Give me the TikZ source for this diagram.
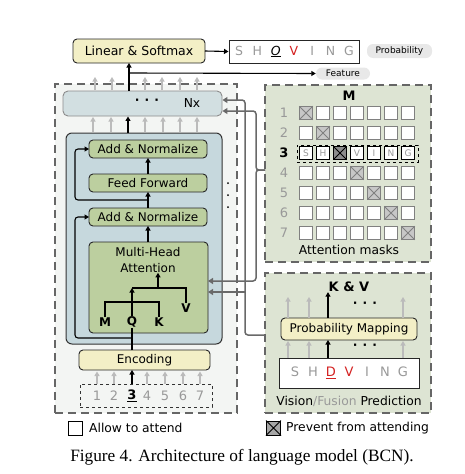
\documentclass[tikz,border=0pt]{standalone}
\usepackage{fontspec}
\setmainfont{Liberation Serif}
\newfontfamily\cfont{DejaVu Sans}
\usetikzlibrary{arrows.meta}
\definecolor{ylw}{HTML}{F3EFC6}
\definecolor{grn}{HTML}{BCCF9F}
\definecolor{blu}{HTML}{C6D8DD}
\definecolor{nxc}{HTML}{D2DFE1}
\definecolor{pnl}{HTML}{DDE4D3}
\definecolor{lpnl}{HTML}{F3F5F3}
\definecolor{dsh}{HTML}{666666}
\definecolor{cnn}{HTML}{696969}
\definecolor{lgr}{HTML}{BBBBBB}
\definecolor{txg}{HTML}{999999}
\definecolor{redl}{HTML}{D42020}
\begin{document}
\begin{tikzpicture}[x=1pt,y=-1pt,
  every node/.style={font=\cfont},
  box/.style={draw=black!85, line width=0.9pt, rounded corners=4pt, inner sep=0pt, outer sep=0pt, font=\cfont\fontsize{12}{12}\selectfont},
  ybox/.style={box, fill=ylw},
  gbox/.style={box, fill=grn},
  panel/.style={draw=dsh, line width=2.4pt, dash pattern=on 8pt off 5pt, inner sep=0pt, outer sep=0pt},
  garr/.style={draw=lgr, line width=1.5pt, -{Triangle[length=4.5pt,width=5pt]}},
  barr/.style={draw=black, line width=1.1pt, -{Triangle[length=4.5pt,width=5pt]}},
  bline/.style={draw=black, line width=1.1pt},
  carr/.style={draw=cnn, line width=1.5pt, rounded corners=3pt, -{Triangle[length=5pt,width=6pt]}},
  pill/.style={fill=black!9, rounded corners=6pt, inner sep=0pt, font=\cfont\fontsize{9}{10}\selectfont},
  sq/.style={draw=black!50, line width=1pt, fill=white, minimum size=12.5pt, inner sep=0pt},
  lab/.style={font=\cfont\fontsize{12.3}{13}\selectfont, inner sep=0pt},
  blab/.style={font=\cfont\bfseries\fontsize{12}{13}\selectfont, inner sep=0pt},
]
\path[use as bounding box] (0,0) rectangle (464,474);

% panels
\node[panel, fill=lpnl, minimum width=182pt, minimum height=329pt] (lpanel) at (146,248.5) {};
\node[panel, fill=pnl, minimum width=166pt, minimum height=177pt] (mpanel) at (348,173.5) {};
\node[panel, fill=pnl, minimum width=166pt, minimum height=140pt] (kpanel) at (348,343) {};

% top
\node[ybox, minimum width=132pt, minimum height=24pt, font=\cfont\fontsize{12.5}{13}\selectfont] (linear) at (139,51) {Linear \& Softmax};
\node[draw=black!85, line width=1pt, fill=white, minimum width=130pt, minimum height=23pt, inner sep=0pt,
  font=\cfont\fontsize{12.5}{13}\selectfont] (shov) at (294,51.5)
  {\makebox[18.3pt]{\color{txg}S}\makebox[18.3pt]{\color{txg}H}\makebox[18.3pt]{\underline{\textit{O}}}\makebox[18.3pt]{\color{redl}V}\makebox[18.3pt]{\color{txg}I}\makebox[18.3pt]{\color{txg}N}\makebox[18.3pt]{\color{txg}G}};
\node[pill, minimum width=65pt, minimum height=14pt] (prob) at (399.5,51) {Probability};
\node[pill, minimum width=54pt, minimum height=12pt] (feat) at (343,73.5) {Feature};
\draw[barr] (linear.east) -- (shov.west);

% left stack
\node[draw=black!45, line width=0.9pt, fill=nxc, rounded corners=5pt, minimum width=159pt, minimum height=25pt] (nx) at (142.5,103.5) {};
\node[lab] (nxdots) at (147,102) {\textbf{·\hspace{5pt}·\hspace{5pt}·}};
\node[lab] (nxl) at (192,103.5) {Nx};
\node[draw=black!80, line width=1pt, fill=blu, rounded corners=6pt, minimum width=156pt, minimum height=211pt] (enc) at (144,238.5) {};
\node[gbox, minimum width=118pt, minimum height=18pt] (an2) at (148,149) {Add \& Normalize};
\node[gbox, minimum width=118pt, minimum height=18pt] (ff) at (148,183) {Feed Forward};
\node[gbox, minimum width=118pt, minimum height=18pt] (an1) at (148,217) {Add \& Normalize};
\node[gbox, minimum width=119pt, minimum height=91pt] (mha) at (148.5,287.5) {};
\node[lab, align=center, font=\cfont\fontsize{12}{16}\selectfont] (mhat) at (148,260) {Multi-Head\\Attention};
\node[blab] (M) at (105,322) {M};
\node[blab] (Q) at (132,322) {Q};
\node[blab] (K) at (159,322) {K};
\node[blab] (V) at (186,308) {V};
\node[ybox, minimum width=131pt, minimum height=20pt] (encd) at (144.5,360) {Encoding};
\node[draw=black!80, line width=0.8pt, dashed, minimum width=132pt, minimum height=23pt] (numbox) at (146,395.5) {};
\foreach \n/\x in {1/97,2/114,4/147,5/165,6/183,7/200}{
  \node[lab, text=txg, font=\cfont\fontsize{13}{14}\selectfont] (n\n) at (\x,395.5) {\n};
  \draw[garr] (\x,384) -- (\x,371.5);
}
\node[lab, font=\cfont\bfseries\fontsize{13}{14}\selectfont] (n3) at (132,395.5) {\underline{3}};
\draw[barr] (n3.north |- numbox.north) -- (n3.north |- encd.south);

% inner arrows
\draw[barr] (mha.north -| an1.south) -- (an1.south);
\draw[barr] (an1.north) -- (ff.south);
\draw[barr] (ff.north) -- (an2.south);
\coordinate (r2) at (148,200);
\coordinate (r1) at (132,338);
\draw[barr, rounded corners=3pt] (r2) -- (75,200) -- (75,149) -- (an2.west);
\draw[barr, rounded corners=3pt] (r1) -- (75,338) -- (75,217) -- (an1.west);
\draw[bline] (encd.north -| Q) -- (Q.south);
\draw[bline] (M.north) -- (105,302) -- (159,302) -- (K.north);
\draw[barr] (Q.north) -- (132,288);
\draw[bline] (132,288) -- (186,288) -- (V.north);
\draw[barr] (158,288) -- (mhat.south -| 158,0);

% arrows into Nx
\foreach \x in {93,111,145,163,180,197}{ \draw[garr] (\x,132) -- (\x,117); }
\coordinate (c1) at (128,0);
\draw[barr] (enc.north -| c1) -- (nx.south -| c1);
% arrows above Nx
\foreach \x in {95,112,145,162,180,197}{ \draw[garr] (\x,90) -- (\x,77); }
\coordinate (c2) at (129,0);
\draw[barr] (nx.north -| c2) -- (linear.south -| c2);
\draw[barr] (129,73) -- (feat.west);

% vertical dots
\fill (228,183) circle (1pt) (228,195) circle (1pt) (228,207) circle (1pt);

% attention mask panel
\node[blab, font=\cfont\bfseries\fontsize{13}{14}\selectfont] (Mt) at (349,96) {M};
\foreach \i in {1,2,4,5,6,7}{
  \node[lab, text=txg, font=\cfont\fontsize{13}{14}\selectfont] (rl\i) at (284,113+20*\i-20) {\i};
  \foreach \j in {1,...,7}{
    \ifnum\i=\j
      \node[sq, fill=black!22] (s\i\j) at (306+17*\j-17,113+20*\i-20) {};
      \draw[draw=black!50, line width=1pt] (s\i\j.north west) -- (s\i\j.south east) (s\i\j.north east) -- (s\i\j.south west);
    \else
      \node[sq] (s\i\j) at (306+17*\j-17,113+20*\i-20) {};
    \fi
  }
}
\node[lab, font=\cfont\bfseries\fontsize{13}{14}\selectfont] (rl3) at (284,153) {3};
\node[draw=black, line width=0.8pt, dashed, minimum width=121pt, minimum height=17pt, inner sep=0pt] (row3) at (357.5,153.5) {};
\foreach \j/\c in {1/S,2/H,4/V,5/I,6/N,7/G}{
  \node[sq, draw=black, text=txg, font=\cfont\fontsize{9}{9}\selectfont] (s3\j) at (306+17*\j-17,153) {\c};
}
\node[sq, draw=black, fill=black!45] (s33) at (340,153) {};
\draw[black, line width=1pt] (s33.north west) -- (s33.south east) (s33.north east) -- (s33.south west);
\node[lab] (amask) at (349,250) {Attention masks};

% K & V panel
\node[blab, font=\cfont\bfseries\fontsize{13}{14}\selectfont] (kv) at (349,287) {K \& V};
\node[ybox, minimum width=136pt, minimum height=22pt] (pm) at (349,329) {Probability Mapping};
\node[draw=black!85, line width=1pt, fill=white, minimum width=140pt, minimum height=30pt, inner sep=0pt,
  font=\cfont\fontsize{13}{14}\selectfont] (shdv) at (349,373)
  {\makebox[18pt]{\color{txg}S}\makebox[18pt]{\color{txg}H}\makebox[18pt]{\color{redl}\underline{D}}\makebox[18pt]{\color{redl}V}\makebox[18pt]{\color{txg}I}\makebox[18pt]{\color{txg}N}\makebox[18pt]{\color{txg}G}};
\foreach \x in {288,309,403}{
  \draw[garr] (\x,318) -- (\x,297);
  \draw[garr] (\x,358) -- (\x,341);
}
\draw[barr] (pm.north -| 328,0) -- (kv.south -| 328,0);
\draw[barr] (shdv.north -| 328,0) -- (pm.south -| 328,0);
\node[lab] (kvd1) at (365,305) {\textbf{·\hspace{5pt}·\hspace{5pt}·}};
\node[lab] (kvd2) at (365,347) {\textbf{·\hspace{5pt}·\hspace{5pt}·}};
\node[lab] (vfp) at (349,401) {Vision{\color{txg}/Fusion} Prediction};

% connectors between panels
\coordinate (kin) at (265,335);
\coordinate (min) at (265,170);
\draw[carr] (kin) -| (245,100) -- ([yshift=3.5pt]nx.east);
\draw[carr] (245,292) -- ([yshift=-4.5pt]mha.east);
\draw[carr] (min) -| (256,111) -- ([yshift=-7.5pt]nx.east);
\draw[carr] (min) -| (256,281) -- ([yshift=6.5pt]mha.east);

% legend
\node[draw=black, line width=1pt, fill=white, minimum size=14pt, inner sep=0pt] (lg1) at (75.5,428) {};
\node[lab, anchor=west] (lg1t) at (89,428) {Allow to attend};
\node[draw=black, line width=1pt, fill=black!35, minimum size=14pt, inner sep=0pt] (lg2) at (273.5,428) {};
\draw[black, line width=1pt] (lg2.north west) -- (lg2.south east) (lg2.north east) -- (lg2.south west);
\node[lab, anchor=west] (lg2t) at (286,428) {Prevent from attending};

% caption
\node[font=\fontsize{17.3}{19}\selectfont, inner sep=0pt] (cap) at (242,457) {Figure 4. Architecture of language model (BCN).};
\end{tikzpicture}
\end{document}
